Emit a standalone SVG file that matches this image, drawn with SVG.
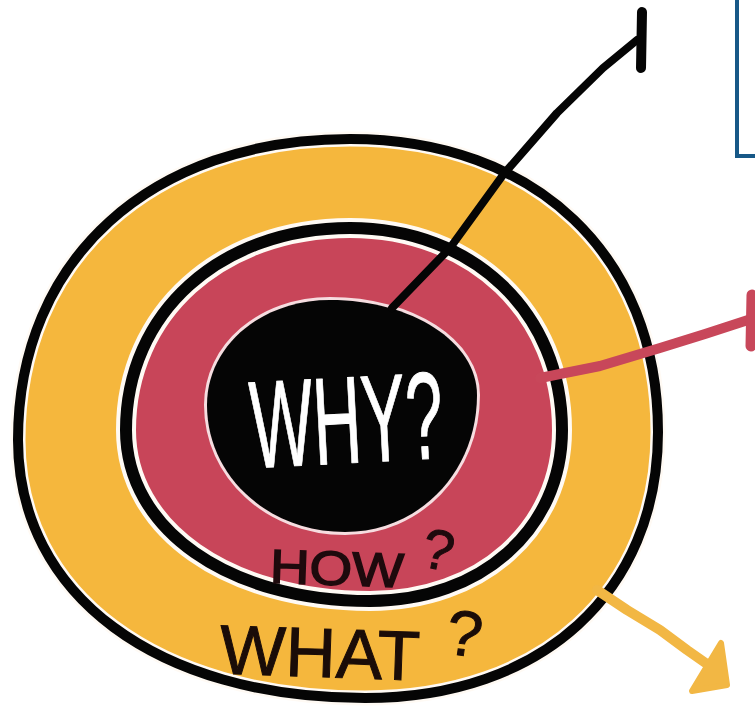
<svg xmlns="http://www.w3.org/2000/svg" width="755" height="707" viewBox="0 0 755 707">
<style>
.yellow{fill:#f5b73d}
.red{fill:#c84559}
.ink{fill:none;stroke:#050505;stroke-linejoin:round}
.gap{fill:none;stroke:#fffaf4}
.lbl{font-family:"Liberation Sans","DejaVu Sans",sans-serif}
.conn{fill:none;stroke-linecap:round;stroke-linejoin:round}
</style>
<defs>
<path id="outerShape" d="M350,139 C536,139 658,256 658,432 C658,592 542,698 365,698 C157,698 18,595 18,440 C18,259 151,139 350,139 Z"/>
<path id="innerShape" d="M350,228 C473,228 562,313 562,430 C562,529 481,601 370,601 C228,601 126,529 126,430 C126,313 220,228 350,228 Z"/>
<path id="coreShape" d="M330,300 C412,300 477,342 477,395 C477,472 419,532 345,532 C268,532 207,476 207,405 C207,346 261,300 330,300 Z"/>
</defs>
<rect width="755" height="707" fill="#ffffff"/>

<g id="box">
<rect x="737" y="-6" width="40" height="162" fill="none" stroke="#175887" stroke-width="4"/>
</g>

<g id="what">
<use href="#outerShape" class="yellow"/>
<use href="#outerShape" class="gap" stroke-width="15"/>
<use href="#outerShape" class="ink" stroke-width="10"/>
<text class="lbl" x="220" y="677" font-size="70" textLength="200" lengthAdjust="spacingAndGlyphs" fill="#1a0c08" stroke="#1a0c08" stroke-width="1" transform="rotate(2 320 650)">WHAT</text>
<text class="lbl" x="447" y="656" font-size="64" fill="#1a0c08" stroke="#1a0c08" stroke-width="1" transform="rotate(8 466 632)">?</text>
</g>

<g id="how">
<use href="#innerShape" class="red"/>
<use href="#innerShape" class="gap" stroke-width="20"/>
<use href="#innerShape" class="ink" stroke-width="12"/>
<text class="lbl" x="270" y="585" font-size="48" textLength="134" lengthAdjust="spacingAndGlyphs" fill="#1e0a0d" stroke="#1e0a0d" stroke-width="1.5" transform="rotate(2 336 566)">HOW</text>
<text class="lbl" x="423" y="569" font-size="56" fill="#1e0a0d" stroke="#1e0a0d" stroke-width="1" transform="rotate(12 438 548)">?</text>
</g>

<g id="why">
<use href="#coreShape" fill="#050505" stroke="#f6dde0" stroke-width="6" paint-order="stroke"/>
<text class="lbl" x="250" y="463" font-size="124" textLength="193" lengthAdjust="spacingAndGlyphs" fill="#ffffff" stroke="#ffffff" stroke-width="1" stroke-linejoin="round" transform="rotate(-3 346 420)">WHY?</text>
</g>

<g id="connectors">
<path class="conn" d="M392,308 L450,248 L503,175 L557,113 L603,68 L637,40" stroke="#050505" stroke-width="8"/>
<path class="conn" d="M642,12 L641,68" stroke="#050505" stroke-width="10"/>
<path class="conn" d="M540,378 L600,366 L660,348 L705,334 L748,320" stroke="#c8475a" stroke-width="10"/>
<path class="conn" d="M752,295 L751,346" stroke="#c8475a" stroke-width="11"/>
<path class="conn" d="M597,590 L627,610 L660,630 L687,650 L707,664" stroke="#f2b744" stroke-width="10"/>
<path d="M721,643 L727,685 L692,691 Z" fill="#f2b744" stroke="#f2b744" stroke-width="6" stroke-linejoin="round"/>
</g>
</svg>
